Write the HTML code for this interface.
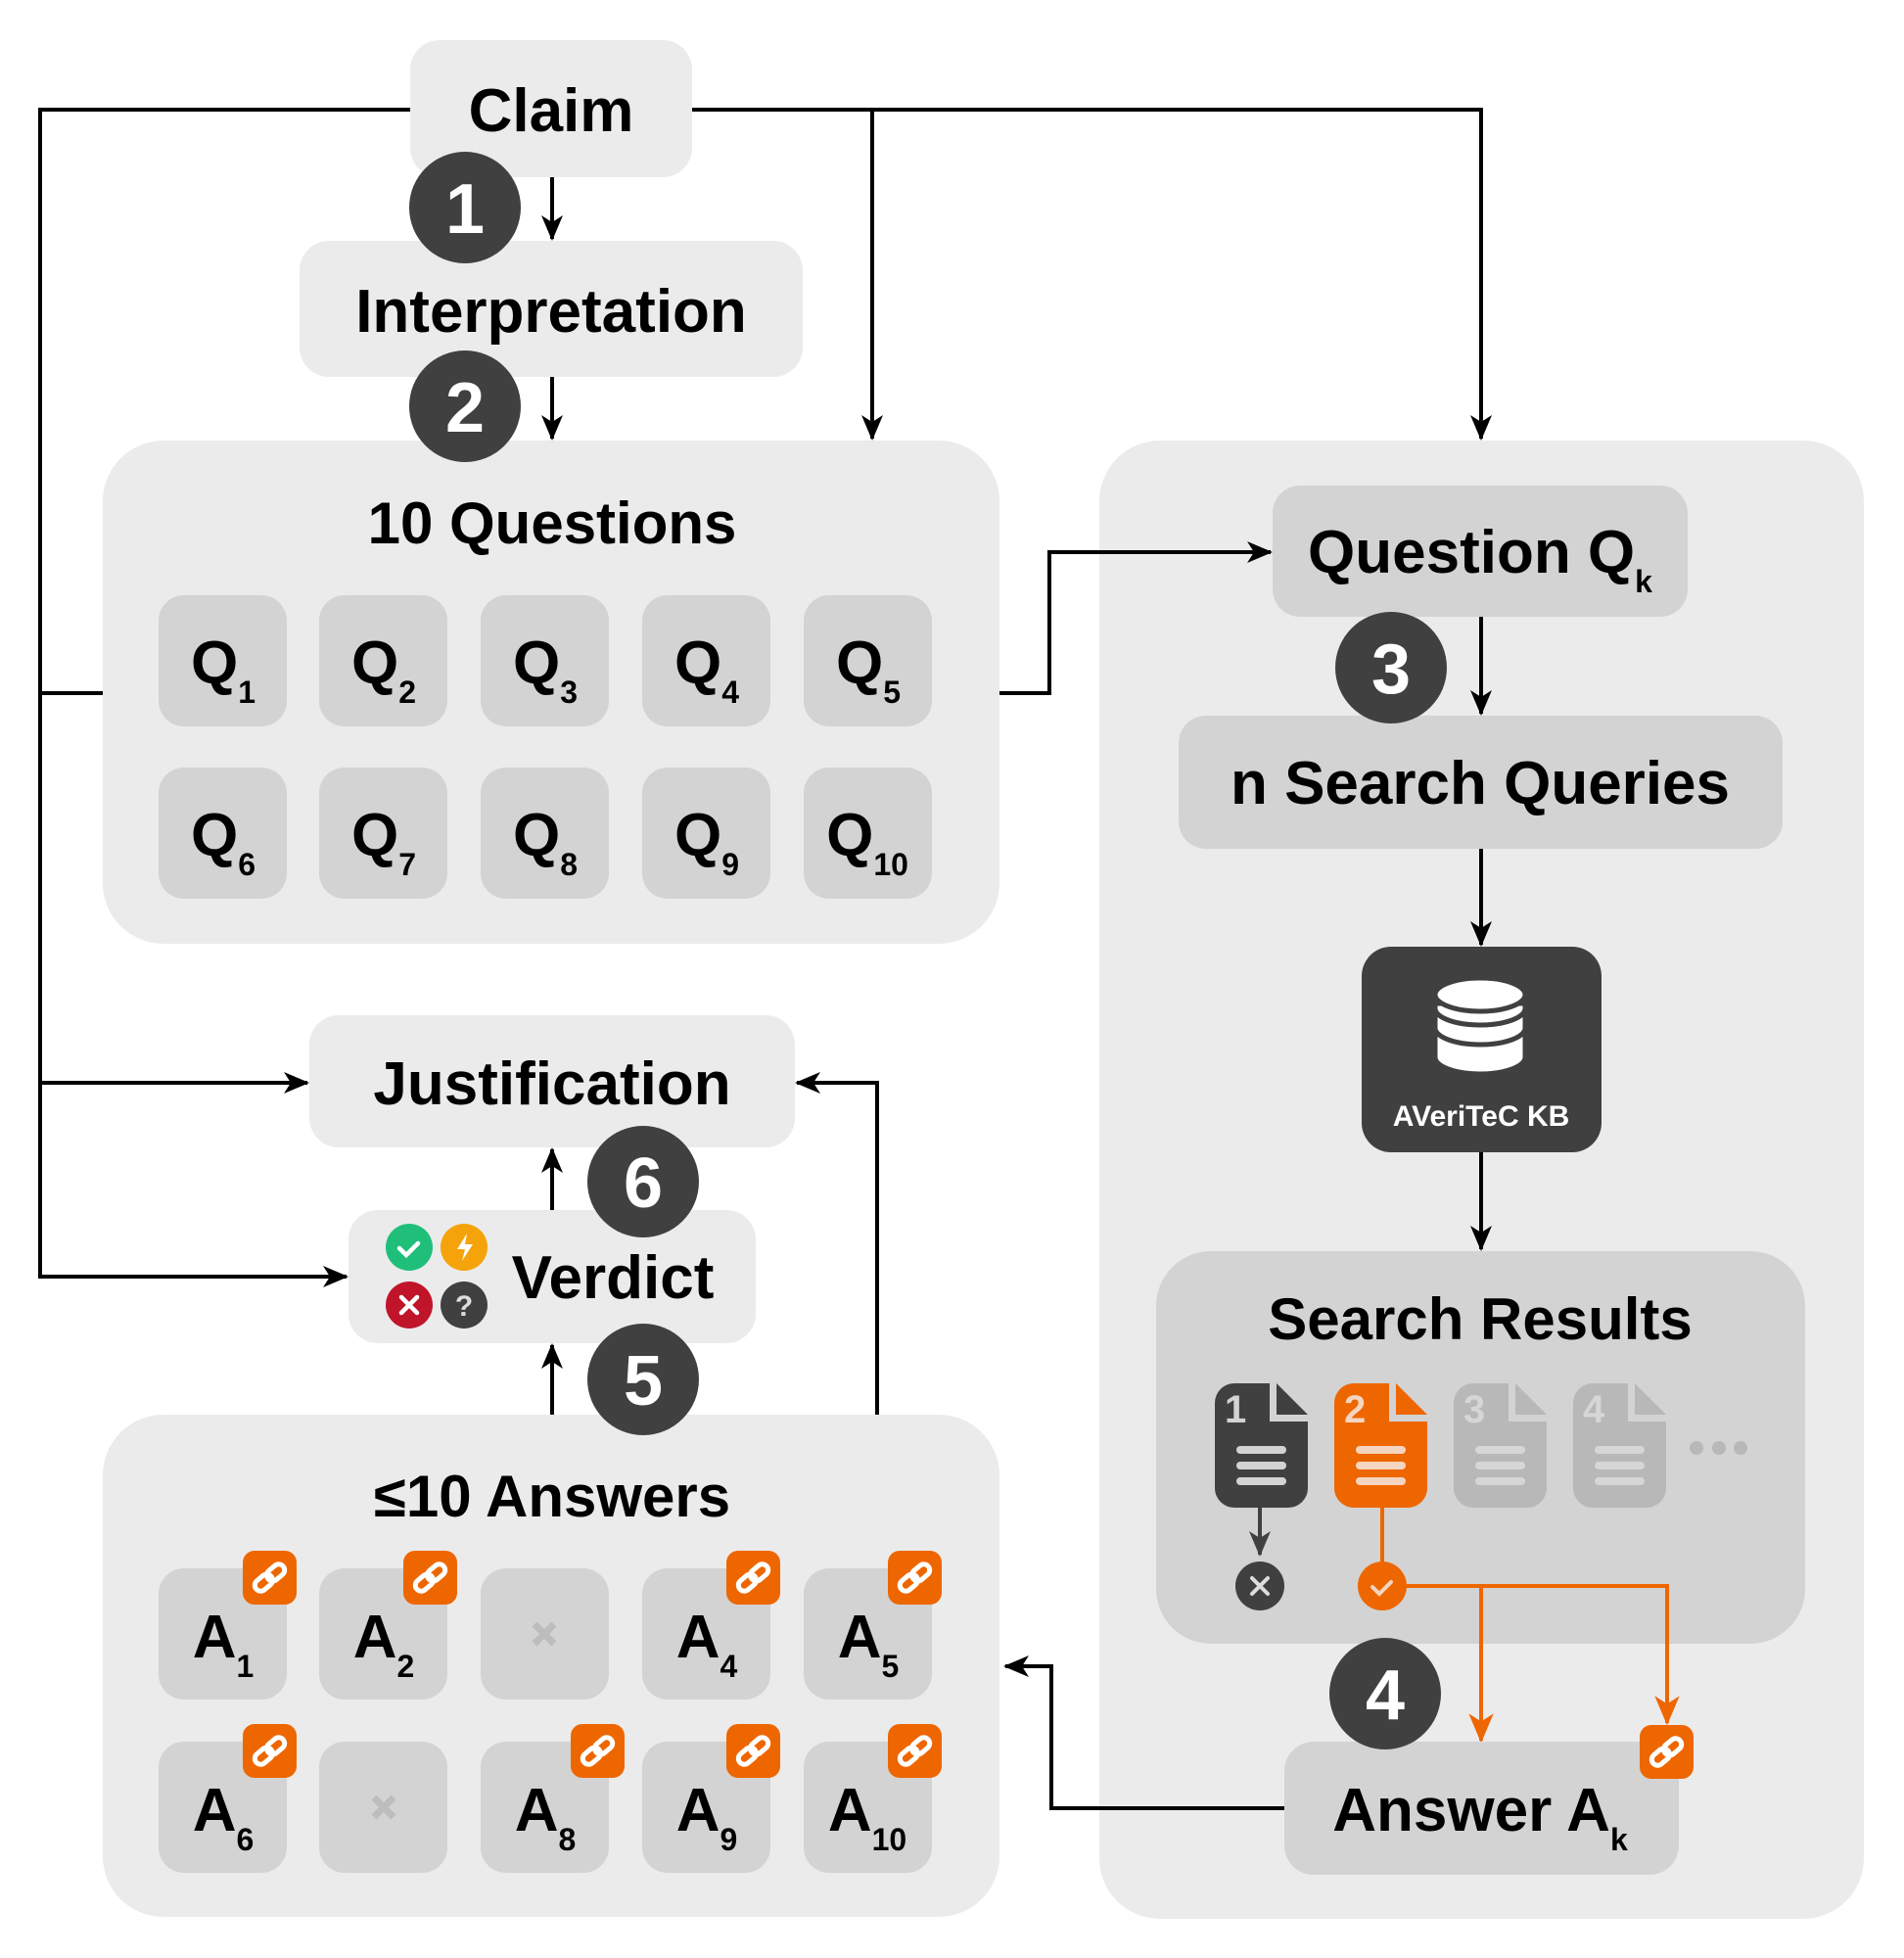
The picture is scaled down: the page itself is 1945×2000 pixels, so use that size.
<!DOCTYPE html>
<html><head><meta charset="utf-8"><style>
html,body{margin:0;padding:0;background:#fff;}
svg{display:block;}
text{font-family:"Liberation Sans",Arial,sans-serif;font-weight:bold;}
</style></head><body>
<svg width="1945" height="2000" viewBox="0 0 1945 2000" xmlns="http://www.w3.org/2000/svg">
<defs>
<marker id="ar" markerUnits="userSpaceOnUse" markerWidth="26" markerHeight="26" viewBox="0 0 26 26" refX="24" refY="13" orient="auto"><path d="M0,2 L26,13 L0,24 L7,13 Z" fill="#000"/></marker>
<marker id="ad" markerUnits="userSpaceOnUse" markerWidth="26" markerHeight="26" viewBox="0 0 26 26" refX="24" refY="13" orient="auto"><path d="M0,2 L26,13 L0,24 L7,13 Z" fill="#404040"/></marker>
<marker id="ao" markerUnits="userSpaceOnUse" markerWidth="30" markerHeight="30" viewBox="0 0 26 26" refX="24" refY="13" orient="auto"><path d="M0,2 L26,13 L0,24 L7,13 Z" fill="#ee6600"/></marker>
<g id="link">
<rect x="0" y="0" width="55" height="55" rx="12" fill="#ee6600"/>
<g fill="none" stroke="#fff" stroke-width="5" transform="translate(27.5,27.5) rotate(-40)">
<rect x="-18" y="-6" width="20" height="12" rx="6"/>
<rect x="-2" y="-6" width="20" height="12" rx="6"/>
</g>
</g>
<g id="q"><rect x="0" y="0" width="131" height="134" rx="26" fill="#d3d3d3"/></g>
</defs>

<rect x="105" y="450" width="916" height="514" rx="62" fill="#ebebeb"/>
<rect x="1123" y="450" width="781" height="1510" rx="62" fill="#ebebeb"/>
<rect x="105" y="1445" width="916" height="513" rx="62" fill="#ebebeb"/>

<g fill="none" stroke="#000" stroke-width="4">
<polyline points="419,112 41,112 41,1304 354,1304" marker-end="url(#ar)"/>
<line x1="105" y1="708" x2="41" y2="708"/>
<line x1="41" y1="1106" x2="314" y2="1106" marker-end="url(#ar)"/>
<polyline points="707,112 1513,112 1513,448" marker-end="url(#ar)"/>
<line x1="891" y1="112" x2="891" y2="448" marker-end="url(#ar)"/>
<line x1="564" y1="181" x2="564" y2="244" marker-end="url(#ar)"/>
<line x1="564" y1="385" x2="564" y2="448" marker-end="url(#ar)"/>
<polyline points="1021,708 1072,708 1072,564 1298,564" marker-end="url(#ar)"/>
<line x1="1513" y1="630" x2="1513" y2="729" marker-end="url(#ar)"/>
<line x1="1513" y1="867" x2="1513" y2="965" marker-end="url(#ar)"/>
<line x1="1513" y1="1177" x2="1513" y2="1276" marker-end="url(#ar)"/>
<polyline points="1312,1847 1074,1847 1074,1702 1027,1702" marker-end="url(#ar)"/>
<line x1="564" y1="1237" x2="564" y2="1174" marker-end="url(#ar)"/>
<line x1="564" y1="1445" x2="564" y2="1374" marker-end="url(#ar)"/>
<polyline points="896,1445 896,1106 814,1106" marker-end="url(#ar)"/>
</g>

<rect x="419" y="41" width="288" height="140" rx="30" fill="#ebebeb"/>
<text x="563" y="134" font-size="62" text-anchor="middle">Claim</text>
<rect x="306" y="246" width="514" height="139" rx="30" fill="#ebebeb"/>
<text x="563" y="339" font-size="62" text-anchor="middle">Interpretation</text>

<text x="564" y="555" font-size="60" text-anchor="middle">10 Questions</text>
<g font-size="62">
<use href="#q" x="162" y="608"/><use href="#q" x="326" y="608"/><use href="#q" x="491" y="608"/><use href="#q" x="656" y="608"/><use href="#q" x="821" y="608"/>
<use href="#q" x="162" y="784"/><use href="#q" x="326" y="784"/><use href="#q" x="491" y="784"/><use href="#q" x="656" y="784"/><use href="#q" x="821" y="784"/>
<text x="228" y="698" text-anchor="middle">Q<tspan font-size="32" dy="20">1</tspan></text>
<text x="392" y="698" text-anchor="middle">Q<tspan font-size="32" dy="20">2</tspan></text>
<text x="557" y="698" text-anchor="middle">Q<tspan font-size="32" dy="20">3</tspan></text>
<text x="722" y="698" text-anchor="middle">Q<tspan font-size="32" dy="20">4</tspan></text>
<text x="887" y="698" text-anchor="middle">Q<tspan font-size="32" dy="20">5</tspan></text>
<text x="228" y="874" text-anchor="middle">Q<tspan font-size="32" dy="20">6</tspan></text>
<text x="392" y="874" text-anchor="middle">Q<tspan font-size="32" dy="20">7</tspan></text>
<text x="557" y="874" text-anchor="middle">Q<tspan font-size="32" dy="20">8</tspan></text>
<text x="722" y="874" text-anchor="middle">Q<tspan font-size="32" dy="20">9</tspan></text>
<text x="886" y="874" text-anchor="middle">Q<tspan font-size="32" dy="20">10</tspan></text>
</g>

<rect x="1300" y="496" width="424" height="134" rx="28" fill="#d3d3d3"/>
<text x="1512" y="585" font-size="62" text-anchor="middle">Question Q<tspan font-size="32" dy="20">k</tspan></text>
<rect x="1204" y="731" width="617" height="136" rx="28" fill="#d3d3d3"/>
<text x="1512" y="821" font-size="62" text-anchor="middle">n Search Queries</text>
<rect x="1391" y="967" width="245" height="210" rx="30" fill="#404040"/>
<g fill="#fff" stroke="#404040" stroke-width="5">
<path d="M1466,1080 v-55 h92 v55 a46,17 0 0 1 -92,0 z"/>
<path d="M1466,1050 a46,17 0 0 0 92,0" fill="none"/>
<path d="M1466,1030 a46,17 0 0 0 92,0" fill="none"/>
<ellipse cx="1512" cy="1016" rx="46" ry="17"/>
</g>
<text x="1513" y="1150" font-size="30" fill="#fff" text-anchor="middle">AVeriTeC KB</text>

<rect x="1181" y="1278" width="663" height="401" rx="56" fill="#d3d3d3"/>
<text x="1512" y="1368" font-size="60" text-anchor="middle">Search Results</text>
<g>
<g transform="translate(1241,1413)">
<path d="M0,20 a20,20 0 0 1 20,-20 h36 v39 h39 v68 a20,20 0 0 1 -20,20 h-55 a20,20 0 0 1 -20,-20 z" fill="#404040"/>
<path d="M63,0 L95,32 H63 Z" fill="#404040"/>
<text x="10" y="40" font-size="40" font-weight="normal" fill="#d3d3d3">1</text>
<g stroke="#d3d3d3" stroke-width="8" stroke-linecap="round"><line x1="26" y1="68" x2="69" y2="68"/><line x1="26" y1="84" x2="69" y2="84"/><line x1="26" y1="100" x2="69" y2="100"/></g>
</g>
<g transform="translate(1363,1413)">
<path d="M0,20 a20,20 0 0 1 20,-20 h36 v39 h39 v68 a20,20 0 0 1 -20,20 h-55 a20,20 0 0 1 -20,-20 z" fill="#ee6600"/>
<path d="M63,0 L95,32 H63 Z" fill="#ee6600"/>
<text x="10" y="40" font-size="40" font-weight="normal" fill="#f5d5c0">2</text>
<g stroke="#f5d5c0" stroke-width="8" stroke-linecap="round"><line x1="26" y1="68" x2="69" y2="68"/><line x1="26" y1="84" x2="69" y2="84"/><line x1="26" y1="100" x2="69" y2="100"/></g>
</g>
<g transform="translate(1485,1413)">
<path d="M0,20 a20,20 0 0 1 20,-20 h36 v39 h39 v68 a20,20 0 0 1 -20,20 h-55 a20,20 0 0 1 -20,-20 z" fill="#b8b8b8"/>
<path d="M63,0 L95,32 H63 Z" fill="#b8b8b8"/>
<text x="10" y="40" font-size="40" font-weight="normal" fill="#d6d6d6">3</text>
<g stroke="#d6d6d6" stroke-width="8" stroke-linecap="round"><line x1="26" y1="68" x2="69" y2="68"/><line x1="26" y1="84" x2="69" y2="84"/><line x1="26" y1="100" x2="69" y2="100"/></g>
</g>
<g transform="translate(1607,1413)">
<path d="M0,20 a20,20 0 0 1 20,-20 h36 v39 h39 v68 a20,20 0 0 1 -20,20 h-55 a20,20 0 0 1 -20,-20 z" fill="#b8b8b8"/>
<path d="M63,0 L95,32 H63 Z" fill="#b8b8b8"/>
<text x="10" y="40" font-size="40" font-weight="normal" fill="#d6d6d6">4</text>
<g stroke="#d6d6d6" stroke-width="8" stroke-linecap="round"><line x1="26" y1="68" x2="69" y2="68"/><line x1="26" y1="84" x2="69" y2="84"/><line x1="26" y1="100" x2="69" y2="100"/></g>
</g>
<circle cx="1733" cy="1479" r="7" fill="#b8b8b8"/><circle cx="1756" cy="1479" r="7" fill="#b8b8b8"/><circle cx="1778" cy="1479" r="7" fill="#b8b8b8"/>
</g>
<line x1="1287" y1="1540" x2="1287" y2="1588" stroke="#404040" stroke-width="4" marker-end="url(#ad)"/>
<circle cx="1287" cy="1620" r="25" fill="#404040"/>
<path d="M1279,1612 l16,16 M1295,1612 l-16,16" stroke="#ddd" stroke-width="4" stroke-linecap="round"/>
<g fill="none" stroke="#ee6600" stroke-width="4">
<line x1="1412" y1="1540" x2="1412" y2="1596"/>
<polyline points="1436,1620 1703,1620 1703,1760" marker-end="url(#ao)"/>
<line x1="1513" y1="1620" x2="1513" y2="1778" marker-end="url(#ao)"/>
</g>
<circle cx="1412" cy="1620" r="25" fill="#ee6600"/>
<path d="M1402,1621 l7,7 l12,-12" stroke="#f5d5c0" stroke-width="4" fill="none" stroke-linecap="round"/>

<rect x="1312" y="1779" width="403" height="136" rx="30" fill="#d3d3d3"/>
<text x="1512" y="1870" font-size="62" text-anchor="middle">Answer A<tspan font-size="32" dy="20">k</tspan></text>
<use href="#link" x="1675" y="1762"/>

<rect x="316" y="1037" width="496" height="135" rx="30" fill="#ebebeb"/>
<text x="564" y="1128" font-size="62" text-anchor="middle">Justification</text>
<rect x="356" y="1236" width="416" height="136" rx="30" fill="#ebebeb"/>
<text x="626" y="1326" font-size="62" text-anchor="middle">Verdict</text>
<circle cx="418" cy="1274" r="24" fill="#1fbf7a"/>
<path d="M408,1275 l7,7 l12,-12" stroke="#fff" stroke-width="4.5" fill="none" stroke-linecap="round"/>
<circle cx="474" cy="1274" r="24" fill="#f5a30a"/>
<path d="M477,1260 l-10,16 h8 l-3,12 l11,-17 h-8 z" fill="#fff"/>
<circle cx="418" cy="1333" r="24" fill="#c0142a"/>
<path d="M410,1325 l16,16 M426,1325 l-16,16" stroke="#fff" stroke-width="4.5" stroke-linecap="round"/>
<circle cx="474" cy="1333" r="24" fill="#404040"/>
<text x="474" y="1344" font-size="30" fill="#ddd" text-anchor="middle">?</text>

<text x="564" y="1549" font-size="60" text-anchor="middle">≤10 Answers</text>
<g font-size="62">
<use href="#q" x="162" y="1602"/><use href="#q" x="326" y="1602"/><use href="#q" x="491" y="1602"/><use href="#q" x="656" y="1602"/><use href="#q" x="821" y="1602"/>
<use href="#q" x="162" y="1779"/><use href="#q" x="326" y="1779"/><use href="#q" x="491" y="1779"/><use href="#q" x="656" y="1779"/><use href="#q" x="821" y="1779"/>
<text x="228" y="1693" text-anchor="middle">A<tspan font-size="32" dy="20">1</tspan></text>
<text x="392" y="1693" text-anchor="middle">A<tspan font-size="32" dy="20">2</tspan></text>
<text x="722" y="1693" text-anchor="middle">A<tspan font-size="32" dy="20">4</tspan></text>
<text x="887" y="1693" text-anchor="middle">A<tspan font-size="32" dy="20">5</tspan></text>
<text x="228" y="1870" text-anchor="middle">A<tspan font-size="32" dy="20">6</tspan></text>
<text x="557" y="1870" text-anchor="middle">A<tspan font-size="32" dy="20">8</tspan></text>
<text x="722" y="1870" text-anchor="middle">A<tspan font-size="32" dy="20">9</tspan></text>
<text x="886" y="1870" text-anchor="middle">A<tspan font-size="32" dy="20">10</tspan></text>
</g>
<g stroke="#bdbdbd" stroke-width="7">
<path d="M546,1659 l20,20 M566,1659 l-20,20"/>
<path d="M382,1836 l20,20 M402,1836 l-20,20"/>
</g>
<use href="#link" x="248" y="1584"/><use href="#link" x="412" y="1584"/><use href="#link" x="742" y="1584"/><use href="#link" x="907" y="1584"/>
<use href="#link" x="248" y="1761"/><use href="#link" x="583" y="1761"/><use href="#link" x="742" y="1761"/><use href="#link" x="907" y="1761"/>

<g fill="#404040">
<circle cx="475" cy="212" r="57"/><circle cx="475" cy="415" r="57"/>
<circle cx="1421" cy="682" r="57"/><circle cx="1415" cy="1730" r="57"/>
<circle cx="657" cy="1207" r="57"/><circle cx="657" cy="1409" r="57"/>
</g>
<g fill="#fff" font-size="72" text-anchor="middle">
<text x="475" y="238">1</text><text x="475" y="441">2</text>
<text x="1421" y="708">3</text><text x="1415" y="1756">4</text>
<text x="657" y="1233">6</text><text x="657" y="1435">5</text>
</g>
</svg>
</body></html>
